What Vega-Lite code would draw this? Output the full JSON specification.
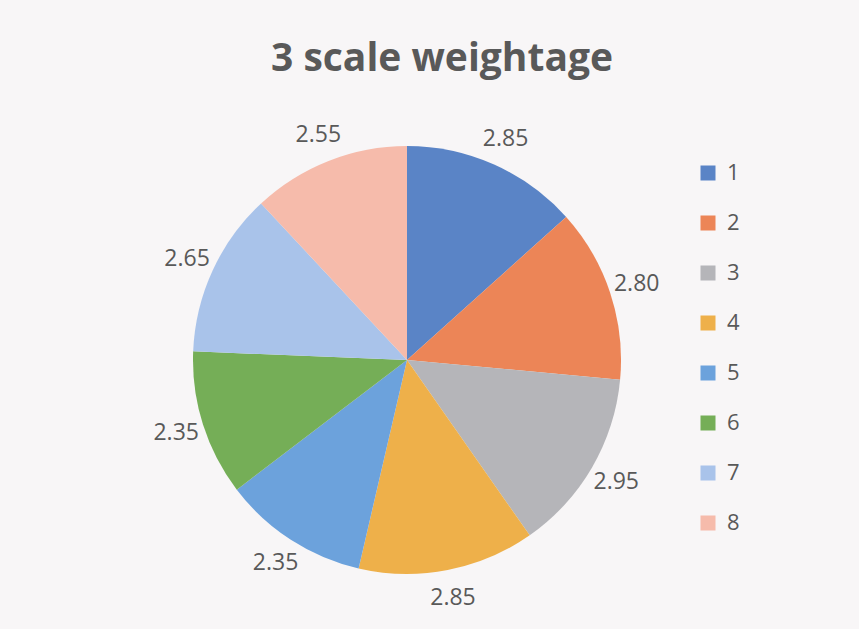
{
  "$schema": "https://vega.github.io/schema/vega-lite/v6.json",
  "autosize": "none",
  "width": 428,
  "height": 428,
  "padding": {"left": 193, "top": 146, "right": 238, "bottom": 55},
  "background": "#f8f6f7",
  "title": {
    "text": "3 scale weightage",
    "font": "Open Sans",
    "fontSize": 39,
    "fontWeight": "bold",
    "color": "#595959",
    "anchor": "middle",
    "offset": 14,
    "dx": 35,
    "baseline": "alphabetic"
  },
  "data": {
    "values": [
      {"k": "1", "v": 2.85},
      {"k": "2", "v": 2.80},
      {"k": "3", "v": 2.95},
      {"k": "4", "v": 2.85},
      {"k": "5", "v": 2.35},
      {"k": "6", "v": 2.35},
      {"k": "7", "v": 2.65},
      {"k": "8", "v": 2.55}
    ]
  },
  "encoding": {
    "theta": {"field": "v", "type": "quantitative", "stack": true},
    "order": {"field": "k", "type": "ordinal"}
  },
  "layer": [
    {
      "mark": {"type": "arc", "outerRadius": 214},
      "encoding": {
        "color": {
          "field": "k",
          "type": "nominal",
          "scale": {
            "domain": ["1", "2", "3", "4", "5", "6", "7", "8"],
            "range": ["#5a84c6", "#ec8557", "#b5b5b9", "#eeb04a", "#6ca2dc", "#75ae57", "#a9c3ea", "#f6bbab"]
          },
          "legend": {
            "title": null,
            "orient": "none",
            "legendX": 504,
            "legendY": 16,
            "symbolType": "square",
            "symbolSize": 225,
            "symbolStrokeWidth": 0,
            "labelFont": "Open Sans",
            "labelFontSize": 22,
            "labelColor": "#595959",
            "rowPadding": 28,
            "labelOffset": 8,
            "padding": 0
          }
        }
      }
    },
    {
      "mark": {"type": "text", "radius": 242, "font": "Open Sans", "fontSize": 23, "color": "#595959"},
      "encoding": {
        "text": {"field": "v", "type": "quantitative", "format": ".2f"}
      }
    }
  ]
}
